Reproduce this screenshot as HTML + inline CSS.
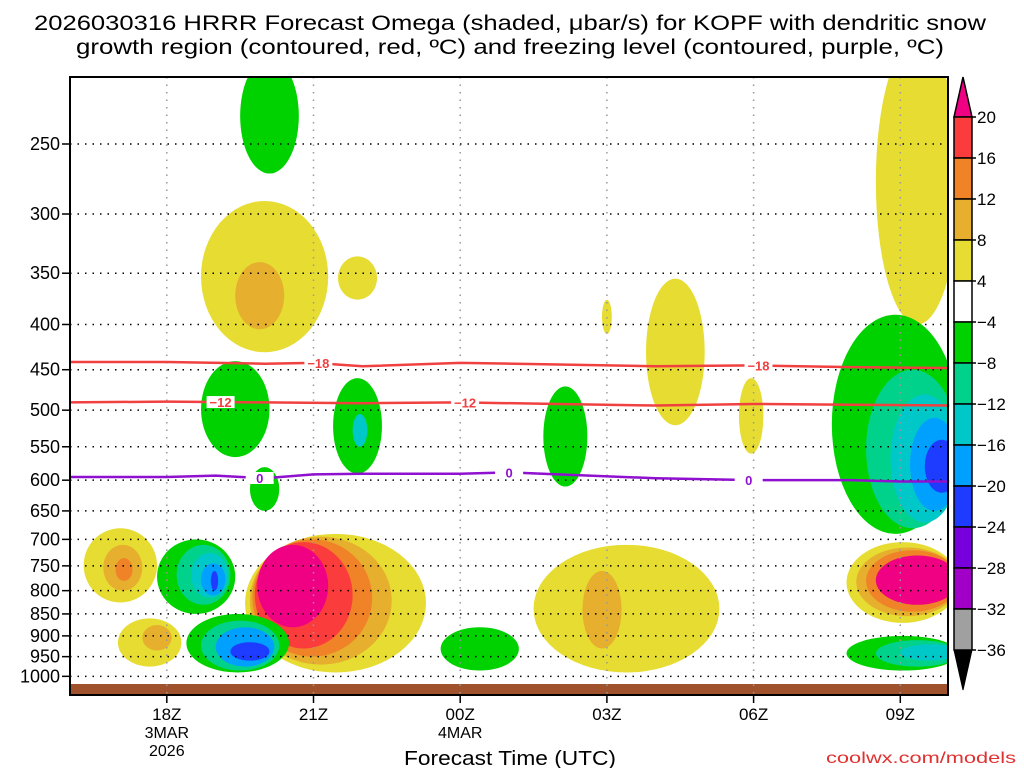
<!DOCTYPE html>
<html><head><meta charset="utf-8"><style>
body{margin:0;background:#fff;}
svg text{font-family:"Liberation Sans","DejaVu Sans",sans-serif;}
</style></head><body>
<svg id="c" width="1024" height="768" xmlns="http://www.w3.org/2000/svg">
<defs><clipPath id="pc"><rect x="70" y="77" width="878" height="618"/></clipPath></defs>
<text x="510" y="30" font-size="21" text-anchor="middle" textLength="952" lengthAdjust="spacingAndGlyphs">2026030316 HRRR Forecast Omega (shaded, μbar/s) for KOPF with dendritic snow</text>
<text x="510" y="54" font-size="21" text-anchor="middle" textLength="868" lengthAdjust="spacingAndGlyphs">growth region (contoured, red, ºC) and freezing level (contoured, purple, ºC)</text>
<g id="shades" clip-path="url(#pc)"></g>
<rect x="70" y="684" width="878" height="11" fill="#a0522d"/>
<g id="grid"></g>
<g id="contours"></g>
<rect x="70" y="77" width="878" height="618" fill="none" stroke="#000" stroke-width="2"/>
<g id="axes"></g>
<g id="cbar"></g>
<text x="510" y="765" font-size="20" text-anchor="middle" textLength="212" lengthAdjust="spacingAndGlyphs">Forecast Time (UTC)</text>
<text x="1016" y="763" font-size="16" fill="#e03030" text-anchor="end" textLength="190" lengthAdjust="spacingAndGlyphs">coolwx.com/models</text>
</svg>
<script>
// data
const pLevels=[250,300,350,400,450,500,550,600,650,700,750,800,850,900,950,1000];
const xHours=[18,21,24,27,30,33];
const xLabels=["18Z","21Z","00Z","03Z","06Z","09Z"];
const xDates=["3MAR","","4MAR","","",""];
const cbLevels=[20,16,12,8,4,-4,-8,-12,-16,-20,-24,-28,-32,-36];
const cbColors=["#fa3c3c","#f08228","#e6af2d","#e6dc32","#ffffff","#00d200","#00d28c","#00c8c8","#00a0ff","#1e3cff","#7800dc","#a000c8","#a0a0a0"];
// blobs: hour range, pressure range, level
const blobH0=[19.5,18.7,19.4,21.5,26.9,27.8,29.7,32.5,18.7,19.7,21.4,21.8,25.7,31.6,32.3,32.8,33.2,33.5,16.3,16.7,16.95,17.0,17.5,17.8,18.2,18.5,18.7,18.9,19.6,19.7,19.75,19.8,19.85,18.4,18.7,19.0,19.3,23.6,25.5,26.5,31.9,32.1,32.3,32.5,31.9,32.5,33.0];
const blobH1=[20.7,21.3,20.4,22.3,27.1,29.0,30.2,34.2,20.1,20.3,22.4,22.1,26.6,34.2,34.2,34.2,34.2,34.2,17.8,17.5,17.3,18.3,18.1,19.4,19.3,19.25,19.2,19.05,23.3,22.6,22.2,21.8,21.3,20.5,20.3,20.2,20.1,25.2,29.3,27.3,34.2,34.2,34.2,34.2,34.2,34.2,34.2];
const blobP0=[200,290,340,335,375,355,460,190,440,580,460,505,470,390,450,480,510,540,680,710,735,860,875,700,710,725,745,760,690,695,700,705,710,850,865,880,915,880,710,760,705,715,720,730,900,910,920];
const blobP1=[270,430,405,375,410,520,560,400,565,650,590,550,610,690,680,670,650,620,825,800,780,975,935,850,830,815,810,800,990,970,950,930,880,990,985,975,960,985,990,930,870,855,845,830,985,975,960];
const blobLevel=[-4,4,8,4,4,4,4,4,-4,-4,-4,-12,-4,-4,-8,-12,-16,-20,4,8,12,4,8,-4,-8,-12,-16,-20,4,8,12,16,20,-4,-8,-16,-20,-4,4,8,4,8,12,20,-4,-8,-12];
const c18Hours=[16,18,20,21,22,24,26,28,30,32,34];
const c18Pres=[441,441,443,442,446,442,444,446,445,447,448];
const c12Hours=[16,18,20,22,24,26,28,30,32,34];
const c12Pres=[490,489,490,491,490,492,494,492,493,494];
const c0Hours=[16,18,19,20,21,22,24,25,26,28,30,32,33,34];
const c0Pres=[595,595,593,597,591,590,590,588,591,597,600,600,602,602];
const NS="http://www.w3.org/2000/svg";
const X=h=>69+(h-16)*48.9;
const Y=p=>144+384*Math.log(p/250);
function mk(t,a,parent){const e=document.createElementNS(NS,t);for(const k in a)e.setAttribute(k,a[k]);parent.appendChild(e);return e;}
const sh=document.getElementById('shades');
const warm={4:"#e6dc32",8:"#e6af2d",12:"#f08228",16:"#fa3c3c",20:"#f00082"};
const cold={"-4":"#00d200","-8":"#00d28c","-12":"#00c8c8","-16":"#00a0ff","-20":"#1e3cff","-24":"#7800dc"};
for(let i=0;i<blobLevel.length;i++){
  const x0=X(blobH0[i]),x1=X(blobH1[i]),y0=Y(blobP0[i]),y1=Y(blobP1[i]);
  const l=blobLevel[i];const col=l>0?warm[l]:cold[l];
  const e=mk('ellipse',{cx:(x0+x1)/2,cy:(y0+y1)/2,rx:(x1-x0)/2,ry:(y1-y0)/2,fill:col},sh);
  
  
}
const g=document.getElementById('grid');
pLevels.forEach(p=>{const l=mk('line',{x1:70,x2:948,y1:Y(p),y2:Y(p),stroke:'#000','stroke-width':1.5,'stroke-dasharray':'1.5 6'},g);

});
xHours.forEach(h=>{const l=mk('line',{x1:X(h),x2:X(h),y1:77,y2:695,stroke:'#999','stroke-width':1.5,'stroke-dasharray':'1.5 6'},g);

});
const ct=document.getElementById('contours');
function line(hs,ps,col,name,labels,txt){
  const d=hs.map((h,i)=>(i?'L':'M')+X(h)+','+Y(ps[i])).join('');
  const p=mk('path',{d:d,fill:'none',stroke:col,'stroke-width':2.5},ct);
  
  
  labels.forEach(h=>{let k=0;while(k<hs.length-2&&hs[k+1]<h)k++;const pp=ps[k]+(ps[k+1]-ps[k])*(h-hs[k])/(hs[k+1]-hs[k]);
    mk('rect',{x:X(h)-14,y:Y(pp)-6,width:28,height:12,fill:'#fff'},ct);
    const t=mk('text',{x:X(h),y:Y(pp)+5,'font-size':13,'font-weight':'bold',fill:col,'text-anchor':'middle'},ct);t.textContent=txt;
    
    });
}
line(c18Hours,c18Pres,'#f04040','contour-minus18',[21.1,30.1],'−18');
line(c12Hours,c12Pres,'#f04040','contour-minus12',[19.1,24.1],'−12');
line(c0Hours,c0Pres,'#9010d0','freezing-level',[19.9,25.0,29.9],'0');
const ax=document.getElementById('axes');
pLevels.forEach(p=>{const t=mk('text',{x:60,y:Y(p)+6,'font-size':18,'text-anchor':'end'},ax);t.textContent=p;


mk('line',{x1:62,x2:70,y1:Y(p),y2:Y(p),stroke:'#000','stroke-width':1.5},ax);});
xHours.forEach((h,i)=>{mk('line',{x1:X(h),x2:X(h),y1:695,y2:703,stroke:'#000','stroke-width':1.5},ax);
const t=mk('text',{x:X(h),y:720,'font-size':17,'text-anchor':'middle'},ax);t.textContent=xLabels[i];


if(xDates[i]){const d=mk('text',{x:X(h),y:738,'font-size':16,'text-anchor':'middle'},ax);d.textContent=xDates[i];

}});
const yr=mk('text',{x:X(18),y:756,'font-size':16,'text-anchor':'middle'},ax);yr.textContent="2026";


const cb=document.getElementById('cbar');
const cx0=954,cw=18,ctop=117,cstep=41.0;
mk('polygon',{points:`${cx0},${ctop} ${cx0+cw},${ctop} ${cx0+cw/2},77`,fill:'#f00082',stroke:'#000','stroke-width':1.5},cb);
cbColors.forEach((c,i)=>{const r=mk('rect',{x:cx0,y:ctop+i*cstep,width:cw,height:cstep,fill:c,stroke:'#000','stroke-width':1.5},cb);

});
const cbot=ctop+cbColors.length*cstep;
mk('polygon',{points:`${cx0},${cbot} ${cx0+cw},${cbot} ${cx0+cw/2},${cbot+40}`,fill:'#000',stroke:'#000'},cb);
cbLevels.forEach((l,i)=>{const y=ctop+i*cstep;mk('line',{x1:cx0+cw,x2:cx0+cw+4,y1:y,y2:y,stroke:'#000','stroke-width':1.5},cb);
const t=mk('text',{x:cx0+cw+5,y:y+6,'font-size':17},cb);t.textContent=l<0?'−'+(-l):l;

});
</script>
</body></html>
